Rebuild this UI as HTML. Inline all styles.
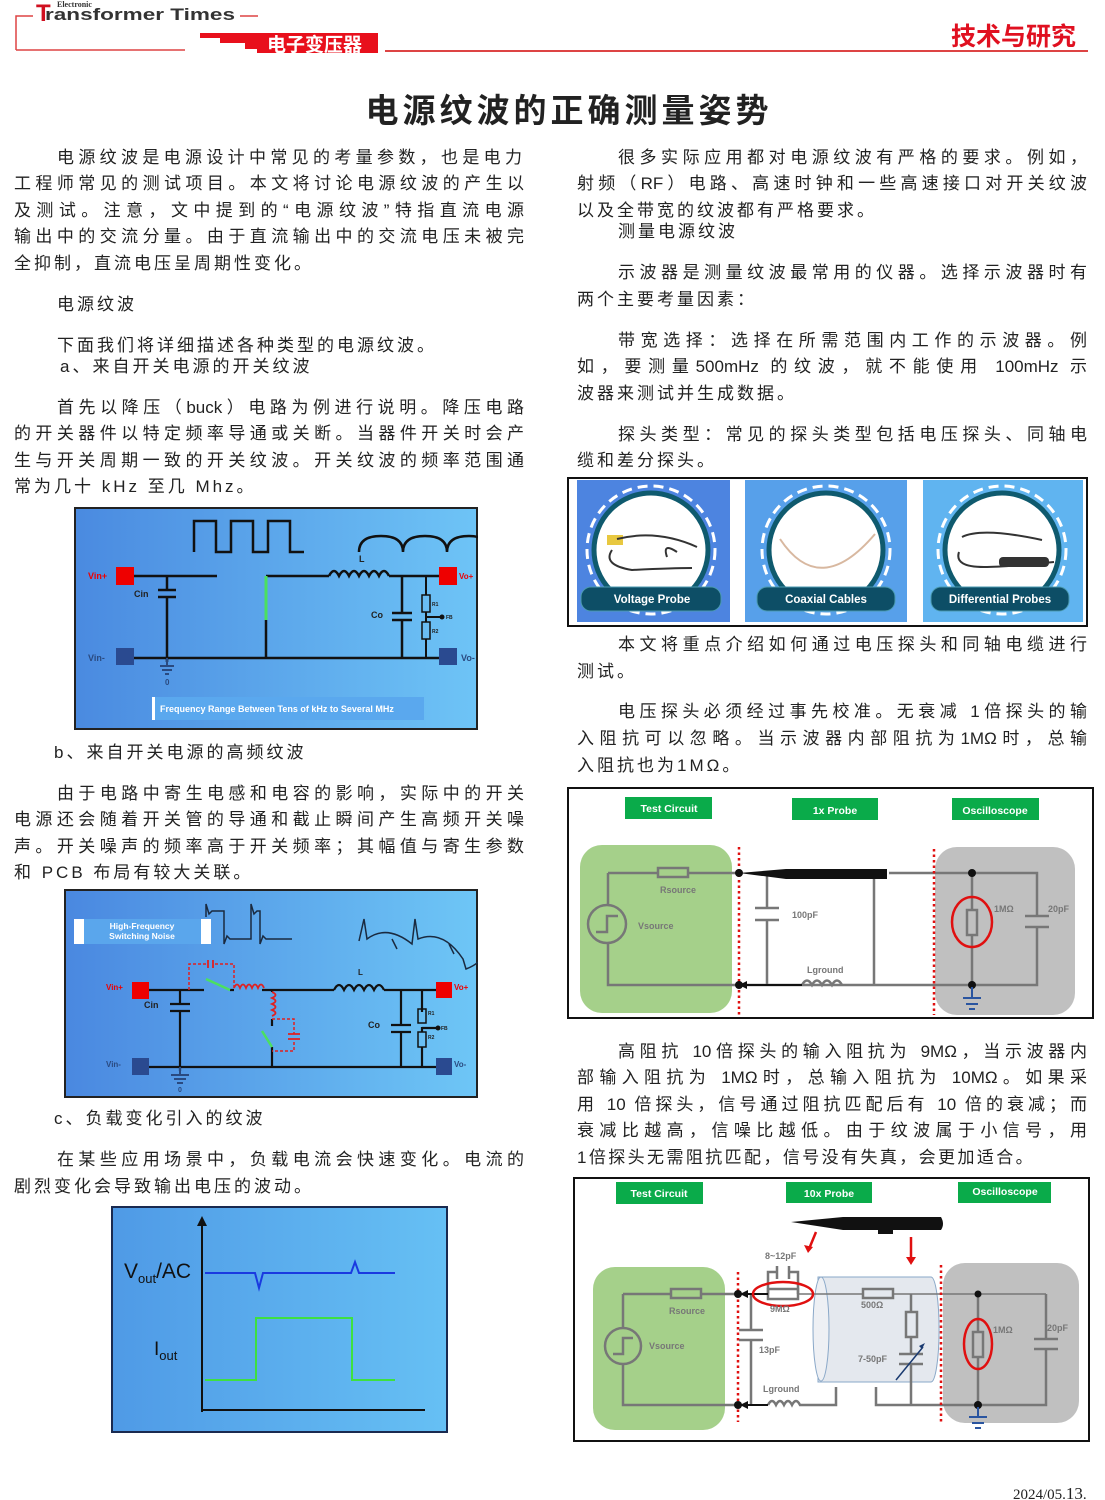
<!DOCTYPE html>
<html><head><meta charset="utf-8">
<style>
body{margin:0;background:#fff;}
#p{position:relative;width:1105px;height:1500px;overflow:hidden;background:#fff;font-family:"Liberation Sans","Noto Sans CJK SC",sans-serif;color:#222;}
.l{position:absolute;font-size:17px;line-height:22px;white-space:nowrap;letter-spacing:3px;}
.j{position:absolute;font-size:17px;line-height:22px;white-space:nowrap;text-align:justify;text-align-last:justify;}
.fig{position:absolute;}
</style></head><body><div id="p">
<!-- header -->
<svg class="fig" style="left:0;top:0" width="1105" height="60">
<path d="M16 50 V16 H33" stroke="#d44" stroke-width="1.5" fill="none"/>
<path d="M16 50 H185" stroke="#d44" stroke-width="1.5"/>
<path d="M240 16 H258" stroke="#d44" stroke-width="1.5"/>
<path d="M200 33 H378 V53 H257 V49 H245 V43 H220 V38 H200 Z" fill="#e8101c"/>
<path d="M385 51 H1088" stroke="#d44" stroke-width="2"/>
<text x="36" y="21" font-family="Liberation Sans" font-weight="bold" font-size="24" fill="#d01020">T</text>
<text x="45" y="20" font-family="Liberation Sans" font-weight="bold" font-size="17" fill="#333" textLength="190" lengthAdjust="spacingAndGlyphs">ransformer Times</text>
<text x="57" y="7" font-family="Liberation Serif" font-weight="bold" font-size="8" fill="#333">Electronic</text>
<text x="267" y="51" font-family="Noto Sans CJK SC" font-weight="bold" font-size="19" fill="#fff">电子变压器</text>
<text x="951" y="45" font-family="Noto Sans CJK SC" font-weight="bold" font-size="25" fill="#e01020">技术与研究</text>
</svg>
<div style="position:absolute;left:0;width:1138px;top:84px;text-align:center;font-family:'Noto Sans CJK SC',sans-serif;font-weight:bold;font-size:33px;letter-spacing:4px;color:#222;">电源纹波的正确测量姿势</div>

<!-- left column -->
<div class="j" style="left:57px;width:465px;top:147px">电源纹波是电源设计中常见的考量参数，也是电力</div>
<div class="j" style="left:14px;width:510px;top:173px">工程师常见的测试项目。本文将讨论电源纹波的产生以</div>
<div class="j" style="left:14px;width:510px;top:200px">及测试。注意，文中提到的“电源纹波”特指直流电源</div>
<div class="j" style="left:14px;width:510px;top:226px">输出中的交流分量。由于直流输出中的交流电压未被完</div>
<div class="l" style="left:14px;top:253px">全抑制，直流电压呈周期性变化。</div>
<div class="l" style="left:57px;top:294px">电源纹波</div>
<div class="l" style="left:57px;top:335px">下面我们将详细描述各种类型的电源纹波。</div>
<div class="l" style="left:60px;top:356px">a、来自开关电源的开关纹波</div>
<div class="j" style="left:57px;width:467px;top:397px">首先以降压（buck）电路为例进行说明。降压电路</div>
<div class="j" style="left:14px;width:510px;top:423px">的开关器件以特定频率导通或关断。当器件开关时会产</div>
<div class="j" style="left:14px;width:510px;top:450px">生与开关周期一致的开关纹波。开关纹波的频率范围通</div>
<div class="l" style="left:14px;top:476px">常为几十 kHz 至几 Mhz。</div>
<div class="l" style="left:54px;top:742px">b、来自开关电源的高频纹波</div>
<div class="j" style="left:57px;width:467px;top:783px">由于电路中寄生电感和电容的影响，实际中的开关</div>
<div class="j" style="left:14px;width:510px;top:809px">电源还会随着开关管的导通和截止瞬间产生高频开关噪</div>
<div class="j" style="left:14px;width:510px;top:836px">声。开关噪声的频率高于开关频率；其幅值与寄生参数</div>
<div class="l" style="left:14px;top:862px">和 PCB 布局有较大关联。</div>
<div class="l" style="left:54px;top:1108px">c、负载变化引入的纹波</div>
<div class="j" style="left:57px;width:467px;top:1149px">在某些应用场景中，负载电流会快速变化。电流的</div>
<div class="l" style="left:14px;top:1176px">剧烈变化会导致输出电压的波动。</div>

<!-- right column -->
<div class="j" style="left:618px;width:469px;top:147px">很多实际应用都对电源纹波有严格的要求。例如，</div>
<div class="j" style="left:577px;width:510px;top:173px">射频（RF）电路、高速时钟和一些高速接口对开关纹波</div>
<div class="l" style="left:577px;top:200px">以及全带宽的纹波都有严格要求。</div>
<div class="l" style="left:618px;top:221px">测量电源纹波</div>
<div class="j" style="left:618px;width:469px;top:262px">示波器是测量纹波最常用的仪器。选择示波器时有</div>
<div class="l" style="left:577px;top:289px">两个主要考量因素：</div>
<div class="j" style="left:618px;width:469px;top:330px">带宽选择：选择在所需范围内工作的示波器。例</div>
<div class="j" style="left:577px;width:510px;top:356px">如，要测量500mHz 的纹波，就不能使用 100mHz 示</div>
<div class="l" style="left:577px;top:383px">波器来测试并生成数据。</div>
<div class="j" style="left:618px;width:469px;top:424px">探头类型：常见的探头类型包括电压探头、同轴电</div>
<div class="l" style="left:577px;top:450px">缆和差分探头。</div>
<div class="j" style="left:618px;width:469px;top:634px">本文将重点介绍如何通过电压探头和同轴电缆进行</div>
<div class="l" style="left:577px;top:661px">测试。</div>
<div class="j" style="left:618px;width:469px;top:701px">电压探头必须经过事先校准。无衰减 1倍探头的输</div>
<div class="j" style="left:577px;width:510px;top:728px">入阻抗可以忽略。当示波器内部阻抗为1MΩ时，总输</div>
<div class="l" style="left:577px;top:755px">入阻抗也为1MΩ。</div>
<div class="j" style="left:618px;width:469px;top:1041px">高阻抗 10倍探头的输入阻抗为 9MΩ，当示波器内</div>
<div class="j" style="left:577px;width:510px;top:1067px">部输入阻抗为 1MΩ时，总输入阻抗为 10MΩ。如果采</div>
<div class="j" style="left:577px;width:510px;top:1094px">用 10 倍探头，信号通过阻抗匹配后有 10 倍的衰减；而</div>
<div class="j" style="left:577px;width:510px;top:1120px">衰减比越高，信噪比越低。由于纹波属于小信号，用</div>
<div class="l" style="left:577px;top:1147px;letter-spacing:2.4px">1倍探头无需阻抗匹配，信号没有失真，会更加适合。</div>

<div style="position:absolute;left:1013px;top:1484px;font-family:'Liberation Serif',serif;font-size:15px;color:#222">2024/05.<span style="font-size:17px">13</span>.</div>

<!-- Figure 1 -->
<svg class="fig" style="left:74px;top:507px" width="404" height="223" font-family="Liberation Sans" font-weight="bold">
<defs><linearGradient id="bg1" x1="0" x2="1" y1="0" y2="0"><stop offset="0" stop-color="#4a8ae0"/><stop offset="1" stop-color="#6ec4f6"/></linearGradient></defs>
<rect x="1" y="1" width="402" height="221" fill="url(#bg1)" stroke="#222" stroke-width="2"/>
<path d="M120 45 V14 H142 V45 H157 V14 H179 V45 H194 V14 H216 V45 H230" stroke="#111" stroke-width="2.5" fill="none"/>
<path d="M285 45 q0 -16 22 -16 q22 0 22 16 q0 -16 22 -16 q22 0 22 16 q0 -16 22 -16 q20 0 20 16" stroke="#111" stroke-width="2.5" fill="none"/>
<g stroke="#111" stroke-width="2.5" fill="none">
<path d="M60 69 H143 M192 69 H255"/>
<path d="M255 69 q5 -10 10 0 q5 -10 10 0 q5 -10 10 0 q5 -10 10 0 q5 -10 10 0 q5 -10 10 0"/>
<path d="M315 69 H365 M60 151 H365 M93 69 V83 M93 90 V155 M84 83 H102 M84 90 H102"/>
<path d="M192 113 V151 M328 69 V106 M328 113 V151 M318 106 H338 M318 113 H338"/>
<path d="M352 69 V88 M352 105 V115 M352 132 V151 M352 110 H366" stroke-width="2"/>
<rect x="348" y="88" width="8" height="17" stroke-width="1.5"/><rect x="348" y="115" width="8" height="17" stroke-width="1.5"/>
</g>
<path d="M192 69 V113" stroke="#4be060" stroke-width="3"/>
<circle cx="368" cy="110" r="2.5" fill="#111"/>
<g stroke="#2a4a80" stroke-width="2"><path d="M86 159 H100 M88 163 H98 M91 167 H95 M93 151 V159"/></g>
<rect x="42" y="60" width="18" height="18" fill="#e00"/><rect x="365" y="60" width="18" height="18" fill="#e00"/>
<rect x="42" y="141" width="18" height="17" fill="#2a4a90"/><rect x="365" y="141" width="18" height="17" fill="#2a4a90"/>
<text x="14" y="72" font-size="9" fill="#e00">Vin+</text><text x="385" y="72" font-size="8" fill="#e00">Vo+</text>
<text x="14" y="154" font-size="9" fill="#2a4a80">Vin-</text><text x="387" y="154" font-size="9" fill="#2a4a80">Vo-</text>
<text x="60" y="90" font-size="9" fill="#222">Cin</text><text x="297" y="111" font-size="9" fill="#222">Co</text>
<text x="285" y="55" font-size="9" fill="#222">L</text><text x="358" y="99" font-size="5" fill="#222">R1</text><text x="358" y="126" font-size="5" fill="#222">R2</text><text x="372" y="112" font-size="5" fill="#222">FB</text>
<text x="91" y="178" font-size="8" fill="#2a4a80">0</text>
<rect x="78" y="190" width="272" height="23" fill="#5aa8ee"/><rect x="78" y="190" width="3" height="23" fill="#fff"/>
<text x="86" y="205" font-size="9" fill="#fff">Frequency Range Between Tens of kHz to Several MHz</text>
</svg>

<!-- Figure 2 -->
<svg class="fig" style="left:64px;top:889px" width="414" height="209" font-family="Liberation Sans" font-weight="bold">
<defs><linearGradient id="bg2" x1="0" x2="1"><stop offset="0" stop-color="#4a88e0"/><stop offset="1" stop-color="#6ec6f6"/></linearGradient></defs>
<rect x="1" y="1" width="412" height="207" fill="url(#bg2)" stroke="#222" stroke-width="2"/>
<rect x="10" y="30" width="137" height="25" fill="#5aa6ec"/><rect x="10" y="30" width="10" height="25" fill="#fff"/><rect x="137" y="30" width="10" height="25" fill="#fff"/>
<text x="78" y="40" font-size="8.5" fill="#fff" text-anchor="middle">High-Frequency</text><text x="78" y="50" font-size="8.5" fill="#fff" text-anchor="middle">Switching Noise</text>
<g stroke="#1a2a40" stroke-width="1.5" fill="none">
<path d="M142 28 V15 l3 10 l3 -3 H160 V55 l3 -8 l3 3 H187 V15 l3 10 l3 -3 H196 V55 l3 -8 l3 3 H228"/>
<path d="M295 52 l5 -22 l3 20 q20 -15 45 5 l3 -25 l3 20 q25 -10 45 20 l3 10 q8 -3 12 -7 M328 50 l5 10 M385 55 l5 10"/>
</g>
<g stroke="#111" stroke-width="2.2" fill="none">
<path d="M85 101 H140 M116 101 V115 M116 122 V182 M106 115 H126 M106 122 H126 M166 101 H170"/>
<path d="M198 101 H270 M208 101 V103 M208 130 V137 M208 158 V178 M85 178 H372"/>
<path d="M270 101 q5 -10 10 0 q5 -10 10 0 q5 -10 10 0 q5 -10 10 0 q5 -10 10 0 M320 101 H372"/>
<path d="M337 101 V136 M337 143 V178 M327 136 H347 M327 143 H347 M358 101 V123 M358 138 V143 M358 158 V178 M358 139 H372"/>
<rect x="354" y="120" width="8" height="14" stroke-width="1.5"/><rect x="354" y="143" width="8" height="15" stroke-width="1.5"/>
</g>
<circle cx="374" cy="139" r="2.5" fill="#111"/>
<path d="M142 90 L166 101 M198 142 L208 158" stroke="#4be060" stroke-width="2.5"/>
<g stroke="#e02020" stroke-width="1.5" fill="none" stroke-dasharray="3 2"><path d="M125 101 V75 H142 M151 75 H170 V101 M208 130 H230 V145 M230 153 V162 H208"/></g>
<path d="M144 71 V79 M149 71 V79 M224 145 H236 M224 150 H236" stroke="#e02020" stroke-width="1.8"/>
<path d="M170 99 q3 -7 6 0 q3 -7 6 0 q3 -7 6 0 q3 -7 6 0 q3 -7 6 0 M208 103 q7 3 0 6 q7 3 0 6 q7 3 0 6 q7 3 0 6" stroke="#e02020" stroke-width="1.8" fill="none"/>
<path d="M107 186 H125 M110 190 H122 M113 194 H119 M116 178 V186" stroke="#2a4a80" stroke-width="2"/>
<rect x="68" y="93" width="17" height="17" fill="#e00"/><rect x="372" y="93" width="16" height="16" fill="#e00"/>
<rect x="68" y="169" width="17" height="17" fill="#2a4a90"/><rect x="372" y="169" width="16" height="17" fill="#2a4a90"/>
<text x="42" y="101" font-size="8" fill="#e00">Vin+</text><text x="390" y="101" font-size="8" fill="#e00">Vo+</text>
<text x="42" y="178" font-size="8" fill="#2a4a80">Vin-</text><text x="390" y="178" font-size="8" fill="#2a4a80">Vo-</text>
<text x="80" y="119" font-size="9" fill="#222">Cin</text><text x="304" y="139" font-size="9" fill="#222">Co</text><text x="294" y="86" font-size="8" fill="#222">L</text>
<text x="364" y="126" font-size="5" fill="#222">R1</text><text x="364" y="150" font-size="5" fill="#222">R2</text><text x="377" y="141" font-size="5" fill="#222">FB</text>
<text x="114" y="203" font-size="7" fill="#2a4a80">0</text>
</svg>

<!-- Figure 3 -->
<svg class="fig" style="left:111px;top:1206px" width="337" height="227" font-family="Liberation Sans">
<defs><linearGradient id="bg3" x1="0" x2="1"><stop offset="0" stop-color="#4f9ae6"/><stop offset="1" stop-color="#66c0f4"/></linearGradient></defs>
<rect x="1" y="1" width="335" height="225" fill="url(#bg3)" stroke="#1a2a50" stroke-width="2"/>
<path d="M91 206 V18 M91 204 H314" stroke="#111" stroke-width="2"/>
<path d="M86 20 L91 10 L96 20 Z" fill="#111"/>
<path d="M94 67 H144 L148 82 L152 67 H240 L244 56 L248 67 H284" stroke="#1a3ae0" stroke-width="2" fill="none"/>
<path d="M94 174 H145 V112 H241 V174 H284" stroke="#3ee040" stroke-width="2" fill="none"/>
<text x="13" y="72" font-size="21" fill="#111">V<tspan font-size="13" dy="5">out</tspan><tspan dy="-5">/AC</tspan></text>
<text x="43" y="149" font-size="19" fill="#111">I<tspan font-size="13" dy="5">out</tspan></text>
</svg>

<!-- Figure 4 -->
<svg class="fig" style="left:567px;top:477px" width="521" height="150" font-family="Liberation Sans" font-weight="bold">
<rect x="1" y="1" width="519" height="148" fill="#fff" stroke="#111" stroke-width="2"/>
<rect x="10" y="3" width="153" height="142" fill="#4d84e0"/>
<rect x="178" y="3" width="162" height="142" fill="#57a0ea"/>
<rect x="356" y="3" width="160" height="142" fill="#60b4f0"/>
<g fill="#fff" stroke="#0f5a6e" stroke-width="5">
<circle cx="84" cy="73" r="57"/><circle cx="259" cy="73" r="57"/><circle cx="435" cy="73" r="57"/>
</g>
<g fill="none" stroke="#fff" stroke-width="3" stroke-dasharray="10 6">
<circle cx="84" cy="73" r="64"/><circle cx="259" cy="73" r="64"/><circle cx="435" cy="73" r="64"/>
</g>
<rect x="40" y="58" width="16" height="10" fill="#e8c840"/>
<path d="M50 62 q40 -10 80 8 M45 73 q-10 15 20 20 q40 -2 60 -2 M100 80 q-5 -15 10 -5" stroke="#333" stroke-width="2" fill="none"/>
<path d="M213 62 q40 60 95 -5" stroke="#d8b8a0" stroke-width="2" fill="none"/>
<path d="M395 60 q20 -10 80 3 M392 75 q-5 15 25 15 q20 0 70 -5" stroke="#333" stroke-width="2" fill="none"/>
<rect x="432" y="80" width="50" height="10" rx="4" fill="#333"/>
<g fill="#0d4e66" stroke="#4a9ab0" stroke-width="1"><rect x="14" y="110" width="140" height="24" rx="10"/><rect x="190" y="110" width="138" height="24" rx="10"/><rect x="364" y="110" width="138" height="24" rx="10"/></g>
<g fill="#fff" font-size="11.5" text-anchor="middle"><text x="85" y="126">Voltage Probe</text><text x="259" y="126">Coaxial Cables</text><text x="433" y="126">Differential Probes</text></g>
</svg>

<!-- Figure 5 -->
<svg class="fig" style="left:567px;top:787px" width="527" height="232" font-family="Liberation Sans" font-weight="bold">
<rect x="1" y="1" width="525" height="230" fill="#fff" stroke="#111" stroke-width="2"/>
<rect x="13" y="58" width="152" height="168" rx="22" fill="#a5d08a"/>
<rect x="368" y="60" width="140" height="168" rx="22" fill="#c0c0c0"/>
<g fill="#0aab4a"><rect x="58" y="10" width="87" height="22"/><rect x="225" y="11" width="86" height="22"/><rect x="385" y="11" width="87" height="22"/></g>
<g fill="#fff" font-size="10.5" text-anchor="middle"><text x="102" y="25">Test Circuit</text><text x="268" y="27">1x Probe</text><text x="428" y="27">Oscilloscope</text></g>
<g stroke="#777" stroke-width="2.5" fill="none">
<path d="M41 86 V118 M41 156 V198 H170 M41 86 H91 M121 86 H170"/>
<rect x="91" y="81" width="30" height="9"/>
<circle cx="40" cy="137" r="19"/><path d="M29 145 H40 V129 H51"/>
<path d="M200 86 V121 M200 133 V198 M188 121 H212 M188 133 H212 M307 86 V198 M322 86 H470 V129 M470 140 V198 H170"/>
<path d="M458 129 H482 M458 140 H482"/>
<path d="M405 86 V123 M405 148 V198"/><rect x="400" y="123" width="10" height="25"/>
<path d="M235 198 q5 -9 10 0 q5 -9 10 0 q5 -9 10 0 q5 -9 10 0"/>
</g>
<path d="M172 86 L219 82 H320 V92 H219 Z" fill="#111"/>
<path d="M172 198 H235" stroke="#111" stroke-width="2"/><path d="M172 198 l8 -4 v8 z" fill="#111"/>
<ellipse cx="405" cy="135" rx="20" ry="25" fill="none" stroke="#e01010" stroke-width="2.5"/>
<path d="M172 60 V228 M367 62 V228" stroke="#e01010" stroke-width="2.5" stroke-dasharray="2.5 3"/>
<g fill="#111"><circle cx="172" cy="86" r="4"/><circle cx="172" cy="198" r="4"/><circle cx="405" cy="86" r="4"/><circle cx="405" cy="198" r="4"/></g>
<path d="M396 211 H414 M399 217 H411 M402 222 H408 M405 200 V211" stroke="#2a55a0" stroke-width="2"/>
<g fill="#777" font-size="9"><text x="93" y="106">Rsource</text><text x="71" y="142">Vsource</text><text x="225" y="131">100pF</text><text x="240" y="186">Lground</text><text x="427" y="125">1MΩ</text><text x="481" y="125">20pF</text></g>
</svg>

<!-- Figure 6 -->
<svg class="fig" style="left:573px;top:1177px" width="517" height="265" font-family="Liberation Sans" font-weight="bold">
<rect x="1" y="1" width="515" height="263" fill="#fff" stroke="#111" stroke-width="2"/>
<rect x="20" y="90" width="132" height="163" rx="22" fill="#a5d08a"/>
<rect x="370" y="86" width="136" height="160" rx="22" fill="#c0c0c0"/>
<g fill="#0aab4a"><rect x="43" y="5" width="87" height="22"/><rect x="213" y="5" width="86" height="21"/><rect x="385" y="5" width="93" height="21"/></g>
<g fill="#fff" font-size="10.5" text-anchor="middle"><text x="86" y="20">Test Circuit</text><text x="256" y="20">10x Probe</text><text x="432" y="18">Oscilloscope</text></g>
<path d="M218 45 L270 40 H368 Q372 47 368 53 H320 V57 H305 V53 H270 Z" fill="#111"/>
<path d="M243 55 L236 72 M338 60 L338 83" stroke="#e01010" stroke-width="2.5"/>
<path d="M231 68 l4 8 l5 -6 z M333 80 l5 8 l5 -8 z" fill="#e01010"/>
<path d="M245 100 H358 A8 52 0 0 1 358 205 H245 Z" fill="#e4e8ee" stroke="#8aa8c8" stroke-width="1"/>
<ellipse cx="248" cy="152" rx="8" ry="52" fill="#eef0f4" stroke="#8aa8c8" stroke-width="1"/>
<g stroke="#777" stroke-width="2.5" fill="none">
<path d="M50 117 V152 M50 186 V228 H165 M50 117 H98 M128 117 H165"/>
<rect x="98" y="112" width="30" height="9"/>
<circle cx="50" cy="169" r="18"/><path d="M40 177 H50 V161 H60"/>
<path d="M195 117 V95 H204 M216 95 H225 V117 M204 89 V102 M216 89 V102"/>
<rect x="195" y="112" width="30" height="10"/>
<path d="M178 117 V153 M178 163 V228 M166 153 H190 M166 163 H190"/>
<path d="M195 228 q4 -8 8 0 q4 -8 8 0 q4 -8 8 0 q4 -8 8 0 H263 V210 M303 210 V228 H473 V172 M473 162 V117"/>
<path d="M461 162 H485 M461 172 H485"/>
<path d="M338 117 V135 M338 160 V177 M338 187 V228 M326 177 H350 M326 187 H350"/><rect x="333" y="135" width="11" height="25"/>
<path d="M405 117 V155 M405 180 V228"/><rect x="400" y="155" width="10" height="25"/>
<rect x="290" y="112" width="30" height="9"/>
</g>
<path d="M225 117 H290 M320 117 H473" stroke="#777" stroke-width="1.5"/>
<path d="M323 203 L350 170" stroke="#1a3a70" stroke-width="1.5"/><path d="M352 166 l-6 3 l3 3 z" fill="#1a3a70"/>
<path d="M165 117 H195 M165 228 H195" stroke="#111" stroke-width="2"/>
<path d="M167 117 l8 -4 v8 z M167 228 l8 -4 v8 z" fill="#111"/>
<ellipse cx="210" cy="117" rx="30" ry="12" fill="none" stroke="#e01010" stroke-width="2.5"/>
<ellipse cx="405" cy="167" rx="14" ry="25" fill="none" stroke="#e01010" stroke-width="2.5"/>
<path d="M165 95 V245 M368 88 V245" stroke="#e01010" stroke-width="2.5" stroke-dasharray="2.5 3"/>
<g fill="#111"><circle cx="165" cy="117" r="4"/><circle cx="165" cy="228" r="4"/><circle cx="405" cy="117" r="3.5"/><circle cx="405" cy="228" r="4"/></g>
<path d="M396 240 H414 M399 246 H411 M402 251 H408 M405 230 V240" stroke="#2a55a0" stroke-width="2"/>
<g fill="#777" font-size="9"><text x="96" y="137">Rsource</text><text x="76" y="172">Vsource</text><text x="192" y="82">8~12pF</text><text x="197" y="135">9MΩ</text><text x="288" y="131">500Ω</text><text x="186" y="176">13pF</text><text x="285" y="185">7-50pF</text><text x="190" y="215">Lground</text><text x="420" y="156">1MΩ</text><text x="474" y="154">20pF</text></g>
</svg>
</div></body></html>
